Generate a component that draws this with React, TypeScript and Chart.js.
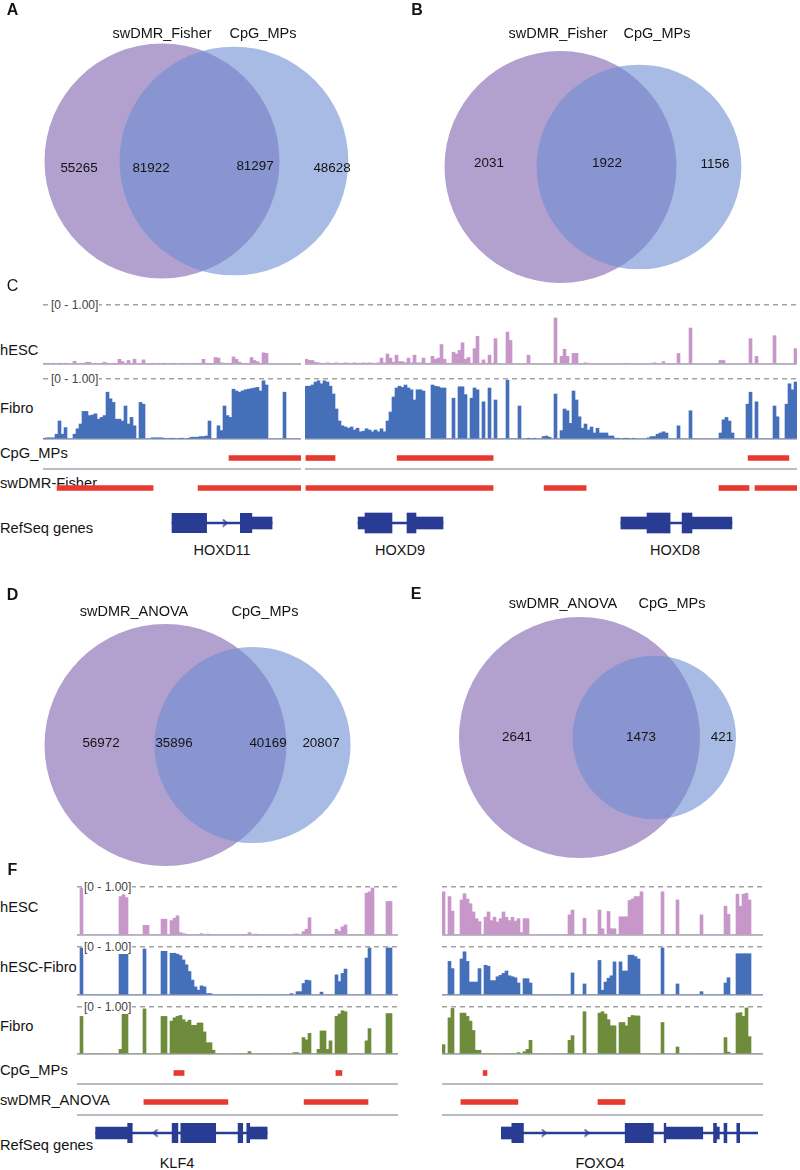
import React, { useEffect, useRef } from "react";
import { Chart, registerables } from "chart.js";

Chart.register(...registerables);

const FONT = '"Liberation Sans", Arial, Helvetica, sans-serif';

// ---------------- Venn data ----------------
const vennASets = ["swDMR_Fisher", "CpG_MPs"];
const vennAOnly = [55265, 48628];
const vennAShared = [81922, 81297];

const vennBSets = ["swDMR_Fisher", "CpG_MPs"];
const vennBOnly = [2031, 1156];
const vennBShared = [1922];

const vennDSets = ["swDMR_ANOVA", "CpG_MPs"];
const vennDOnly = [56972, 20807];
const vennDShared = [35896, 40169];

const vennESets = ["swDMR_ANOVA", "CpG_MPs"];
const vennEOnly = [2641, 421];
const vennEShared = [1473];

// ---------------- Track names ----------------
const cTrackNames = ["hESC", "Fibro", "CpG_MPs", "swDMR-Fisher", "RefSeq genes"];
const fTrackNames = ["hESC", "hESC-Fibro", "Fibro", "CpG_MPs", "swDMR_ANOVA", "RefSeq genes"];
const rangeLabel = "[0 - 1.00]";
const cGeneNames = ["HOXD11", "HOXD9", "HOXD8"];
const fGeneNames = ["KLF4", "FOXO4"];

// ---------------- Panel C signal (fraction of 0-1 range, per genomic bin) ----------------
const cLeftHesc = [
  0.01, 0.005, 0, 0.005, 0, 0.005, 0, 0.005, 0, 0,
  0.045, 0.01, 0, 0.01, 0.03, 0.03, 0, 0.01, 0, 0.01,
  0.03, 0.01, 0, 0.01, 0, 0.08, 0.04, 0, 0.06, 0,
  0.08, 0, 0, 0.07, 0, 0, 0.005, 0, 0.005, 0,
  0.005, 0, 0, 0.005, 0, 0, 0.01, 0, 0, 0.01,
  0, 0.01, 0.01, 0.08, 0.01, 0.01, 0, 0.11, 0.1, 0.02,
  0.01, 0.01, 0.01, 0.12, 0.08, 0.03, 0.01, 0.01, 0.01, 0.11,
  0.06, 0.04, 0.01, 0.19, 0.18, 0, 0, 0, 0, 0,
  0, 0, 0, 0, 0, 0,
];
const cLeftFibro = [
  0.01, 0.02, 0.02, 0.02, 0.08, 0.3, 0.08, 0.19, 0, 0,
  0.08, 0.17, 0.25, 0.46, 0.46, 0.39, 0.4, 0.42, 0.33, 0.36,
  0.39, 0.78, 0.67, 0.61, 0.33, 0.33, 0.3, 0.55, 0.25, 0.36,
  0.22, 0, 0.61, 0.58, 0, 0, 0.02, 0.02, 0.02, 0.02,
  0.01, 0, 0.01, 0.01, 0, 0.01, 0.01, 0, 0.01, 0.03,
  0.03, 0.03, 0.04, 0.04, 0.05, 0.3, 0, 0, 0.22, 0.14,
  0.55, 0.39, 0.36, 0.83, 0.8, 0.78, 0.8, 0.82, 0.83, 0.84,
  0.85, 0.86, 0.8, 0.97, 0.9, 0, 0, 0, 0, 0,
  0.78, 0, 0, 0, 0, 0,
];
const cRightHesc = [
  0.08, 0.06, 0.06, 0.03, 0.02, 0.01, 0.01, 0.02, 0.01, 0.01,
  0.02, 0.01, 0.01, 0.02, 0.01, 0.01, 0.02, 0.01, 0.01, 0.02,
  0.01, 0.02, 0.01, 0.01, 0.02, 0.1, 0.02, 0.17, 0.1, 0.03,
  0.15, 0.04, 0.04, 0.02, 0.1, 0.02, 0.15, 0.02, 0.02, 0.1,
  0.01, 0.01, 0.13, 0.08, 0.1, 0.33, 0.08, 0.01, 0.01, 0.2,
  0.17, 0.23, 0.36, 0.08, 0.11, 0.01, 0.26, 0.47, 0.01, 0.07,
  0.01, 0.15, 0.01, 0.43, 0, 0, 0, 0.54, 0.4, 0,
  0, 0, 0, 0, 0.15, 0, 0, 0, 0, 0,
  0, 0, 0, 0.78, 0, 0.13, 0.25, 0.13, 0, 0.18,
  0.18, 0, 0, 0.02, 0, 0, 0, 0, 0, 0,
  0, 0, 0, 0, 0, 0, 0.01, 0, 0, 0,
  0, 0, 0, 0, 0, 0, 0.02, 0, 0, 0.04,
  0, 0, 0, 0, 0.18, 0, 0, 0, 0.61, 0,
  0, 0, 0, 0, 0, 0, 0, 0, 0.06, 0.06,
  0, 0, 0, 0, 0, 0, 0, 0, 0.43, 0,
  0.13, 0, 0, 0, 0, 0, 0.48, 0, 0, 0,
  0, 0, 0, 0.26,
];
const cRightFibro = [
  0.88, 0.88, 0.9, 0.95, 0.97, 0.92, 0.97, 0.95, 0.88, 0.75,
  0.5, 0.3, 0.22, 0.2, 0.18, 0.2, 0.15, 0.18, 0.12, 0.13,
  0.17, 0.15, 0.12, 0.15, 0.12, 0.17, 0.12, 0.3, 0.45, 0.7,
  0.85, 0.88, 0.86, 0.9, 0.85, 0.82, 0.65, 0.82, 0.82, 0.8,
  0, 0, 0.9, 0.88, 0.87, 0.85, 0.85, 0, 0, 0.68,
  0, 0.87, 0.87, 0.74, 0, 0.68, 0.85, 0.82, 0, 0.62,
  0, 0.85, 0, 0.65, 0, 0, 0, 0.98, 0, 0,
  0, 0.55, 0, 0, 0.01, 0, 0.01, 0, 0, 0.04,
  0.05, 0.03, 0, 0.75, 0, 0.14, 0.5, 0.47, 0.26, 0.8,
  0.65, 0.37, 0.18, 0.25, 0.15, 0.2, 0.1, 0.18, 0.1, 0.1,
  0.1, 0.05, 0.05, 0.01, 0.01, 0, 0.01, 0.01, 0, 0.01,
  0, 0, 0, 0, 0.02, 0.04, 0.04, 0.08, 0.1, 0.12,
  0.1, 0, 0, 0, 0.22, 0, 0, 0, 0.47, 0,
  0, 0, 0, 0, 0, 0, 0, 0, 0.1, 0.32,
  0.36, 0.3, 0.1, 0, 0, 0, 0, 0.58, 0.78, 0,
  0.62, 0, 0, 0, 0, 0, 0.55, 0.37, 0, 0,
  0.58, 0.92, 0.82, 0.95,
];

// ---------------- Panel F signal ----------------
const fLeftHesc = [
  0, 0.98, 0, 0, 0, 0, 0, 0, 0, 0,
  0, 0, 0, 0, 0.8, 0.84, 0.78, 0, 0, 0,
  0, 0, 0.2, 0.2, 0, 0, 0, 0, 0.33, 0.33,
  0, 0.3, 0.35, 0.4, 0.05, 0.03, 0.01, 0, 0, 0,
  0, 0.03, 0, 0.02, 0, 0, 0, 0, 0, 0,
  0, 0, 0, 0, 0, 0, 0, 0.05, 0, 0.02,
  0, 0, 0, 0, 0, 0, 0, 0, 0, 0,
  0, 0, 0.02, 0.02, 0, 0.07, 0.12, 0.36, 0, 0,
  0, 0, 0, 0, 0, 0.01, 0.12, 0.08, 0.17, 0.21,
  0, 0, 0, 0, 0, 0, 0.87, 0.9, 0.98, 0,
  0, 0, 0, 0.7, 0.7, 0, 0,
];
const fLeftDiff = [
  0, 0.98, 0, 0, 0, 0, 0, 0, 0, 0,
  0, 0, 0, 0, 0.94, 0.93, 0.94, 0, 0, 0,
  0, 0, 0.96, 0, 0, 0, 0, 0, 0.91, 0.91,
  0, 0.87, 0.87, 0.85, 0.82, 0.73, 0.63, 0.49, 0.31, 0.17,
  0.1, 0.19, 0.17, 0.03, 0.03, 0, 0, 0, 0, 0,
  0, 0, 0, 0, 0, 0, 0, 0, 0, 0,
  0, 0, 0, 0, 0, 0, 0, 0, 0, 0,
  0, 0.03, 0, 0.07, 0.07, 0.24, 0.31, 0.3, 0, 0,
  0, 0.06, 0, 0, 0, 0, 0.42, 0.28, 0.45, 0.54,
  0, 0, 0, 0, 0, 0, 0.77, 0.98, 0, 0,
  0, 0, 0, 0.98, 0.98, 0, 0,
];
const fLeftFibro = [
  0, 0.8, 0, 0, 0, 0, 0, 0, 0, 0,
  0, 0, 0, 0, 0.1, 0.95, 0.98, 0, 0, 0,
  0, 0, 0.96, 0, 0, 0, 0, 0, 0.8, 0.8,
  0, 0.7, 0.77, 0.8, 0.82, 0.73, 0.68, 0.72, 0.61, 0.61,
  0.66, 0.66, 0.47, 0.24, 0.24, 0.08, 0, 0, 0, 0,
  0, 0, 0, 0, 0, 0, 0, 0.05, 0, 0,
  0, 0, 0, 0, 0, 0, 0, 0, 0, 0,
  0, 0, 0.03, 0.03, 0, 0.35, 0.3, 0.44, 0, 0,
  0.1, 0.49, 0.49, 0.1, 0.28, 0, 0.8, 0.85, 0.92, 0.9,
  0, 0, 0, 0, 0, 0, 0.28, 0.54, 0, 0,
  0, 0, 0, 0.86, 0.86, 0, 0,
];
const fRightHesc = [
  0.9, 0, 0.8, 0.5, 0, 0, 0.73, 0.86, 0.75, 0.65,
  0.48, 0.34, 0.28, 0, 0.37, 0.48, 0.3, 0.37, 0.27, 0.34,
  0.48, 0.37, 0.3, 0.37, 0.29, 0.34, 0.05, 0.34, 0.34, 0,
  0, 0, 0, 0, 0, 0, 0, 0, 0, 0,
  0, 0, 0.42, 0.52, 0, 0, 0, 0.35, 0, 0,
  0, 0, 0.52, 0.13, 0, 0.49, 0.13, 0.13, 0, 0.38,
  0.38, 0.38, 0.72, 0.75, 0.8, 0.8, 0.9, 0, 0, 0,
  0, 0, 0, 0.9, 0, 0, 0, 0, 0.73, 0,
  0, 0, 0, 0, 0, 0, 0.42, 0, 0, 0,
  0, 0, 0, 0, 0.6, 0.43, 0, 0, 0.85, 0.6,
  0.85, 0.87, 0.73, 0, 0, 0, 0,
];
const fRightDiff = [
  0, 0, 0.7, 0.55, 0, 0, 0.75, 0.9, 0.7, 0.27,
  0.27, 0.27, 0.55, 0, 0.62, 0.6, 0.3, 0.3, 0.38, 0.41,
  0.45, 0.5, 0.4, 0.38, 0.36, 0.25, 0, 0.34, 0.34, 0.25,
  0, 0, 0, 0, 0, 0, 0, 0, 0, 0,
  0, 0, 0, 0.46, 0, 0, 0, 0.23, 0, 0,
  0, 0, 0.72, 0.1, 0.27, 0.35, 0.4, 0.69, 0, 0.69,
  0.5, 0.5, 0.83, 0.83, 0.8, 0.75, 0, 0, 0, 0,
  0, 0, 0, 0.98, 0, 0, 0, 0, 0.23, 0,
  0, 0, 0, 0, 0, 0, 0.07, 0, 0, 0,
  0, 0, 0, 0, 0.25, 0.36, 0, 0, 0.86, 0.86,
  0.86, 0.86, 0.86, 0, 0, 0, 0,
];
const fRightFibro = [
  0.2, 0, 0.77, 0.97, 0, 0, 0.87, 0.87, 0.8, 0.7,
  0.5, 0.08, 0.08, 0, 0, 0, 0, 0, 0, 0,
  0, 0, 0, 0, 0, 0.03, 0, 0.05, 0.1, 0.29,
  0, 0, 0, 0, 0, 0, 0, 0, 0, 0,
  0, 0, 0.29, 0.39, 0, 0, 0, 0.9, 0, 0,
  0, 0, 0.87, 0.9, 0.85, 0.73, 0.6, 0.6, 0, 0.67,
  0.67, 0.6, 0.78, 0.82, 0.81, 0.81, 0, 0, 0, 0,
  0, 0, 0, 0.67, 0, 0, 0, 0, 0.15, 0,
  0, 0, 0, 0, 0, 0, 0, 0, 0, 0,
  0, 0, 0, 0, 0.35, 0.04, 0, 0, 0.87, 0.88,
  0.8, 0.98, 0.37, 0, 0, 0, 0,
];

// ---------------- Region intervals (genomic bin units) ----------------
const cLeftCpg: [number, number][] = [[62, 86]];
const cLeftDmr: [number, number][] = [[4.7, 36.7], [51.7, 86]];
const cRightCpg: [number, number][] = [[0.3, 10], [30.7, 62.7], [147.7, 161.3]];
const cRightDmr: [number, number][] = [[0.3, 62.7], [79.7, 93.7], [138, 148], [150, 164]];
const fLeftCpg: [number, number][] = [[32.3, 35.7], [86.3, 88.3]];
const fLeftDmr: [number, number][] = [[22.3, 50.3], [75.7, 97]];
const fRightCpg: [number, number][] = [[13.7, 15]];
const fRightDmr: [number, number][] = [[6.3, 25.3], [52, 61]];

// ---------------- Gene models (genomic bin units) ----------------
const hoxd11Span: [number, number][] = [[43, 77.7]];
const hoxd11Utr: [number, number][] = [[70.7, 77.7]];
const hoxd11Cds: [number, number][] = [[43, 55], [66.7, 70.7]];
const hoxd11Arrows = [61.3];

const hoxd98Span: [number, number][] = [[17.7, 46], [105.3, 142.3]];
const hoxd98Utr: [number, number][] = [[17.7, 20], [37, 46], [105.3, 114], [129, 142.3]];
const hoxd98Cds: [number, number][] = [[20, 29], [34, 37], [114, 121.7], [125.7, 129]];
const hoxd98Arrows: number[] = [];

const klf4Span: [number, number][] = [[4.7, 63.7]];
const klf4Utr: [number, number][] = [[4.7, 15.7], [57.7, 63.7]];
const klf4Cds: [number, number][] = [[15.7, 17.3], [31, 33], [34, 46], [53.7, 55.3], [56.7, 57.7]];
const klf4Arrows = [25.3];

const foxo4Span: [number, number][] = [[18.7, 107]];
const foxo4Utr: [number, number][] = [[18.7, 22.3], [75.3, 88], [92.7, 93.7]];
const foxo4Cds: [number, number][] = [[22.3, 26.3], [61.3, 71], [74.7, 75.3], [91.7, 92.7], [95.3, 96.3], [99.7, 100.7]];
const foxo4Arrows = [33.3, 48];

// ---------------- Styles ----------------
const PURPLE = "rgb(178,160,206)";
const BLUE_A = "rgba(110,142,210,0.6)";
const HESC_C = "#C797C9";
const FIBRO_C = "#4570B9";
const GREEN_C = "#6E8C3C";
const RED_C = "#E8392E";
const GENE_C = "#283C93";
const GRAY = "#B8BBC3";
const DASH = "#A3A3A3";

const noPlugins = { legend: { display: false }, tooltip: { enabled: false } };

function fit(values: number[], n: number) {
  const v = values.slice(0, n);
  while (v.length < n) v.push(0);
  return v;
}

function barTrack(values: number[], color: string, n: number) {
  const vals = fit(values, n);
  return {
    type: "bar",
    data: {
      labels: vals.map((_, i) => String(i)),
      datasets: [{ data: vals, backgroundColor: color, borderWidth: 0, barPercentage: 1, categoryPercentage: 1 }],
    },
    options: {
      responsive: false,
      animation: false,
      events: [],
      layout: { padding: { top: 2, bottom: 2, left: 0, right: 0 } },
      plugins: noPlugins,
      scales: {
        x: {
          type: "category",
          display: true,
          grid: { display: false, drawTicks: false },
          ticks: { display: false },
          border: { display: true, color: GRAY, width: 2 },
        },
        y: {
          type: "linear",
          min: 0,
          max: 1,
          display: true,
          ticks: { display: false, stepSize: 1 },
          grid: {
            drawTicks: false,
            lineWidth: 1.5,
            color: (c: any) => (c.tick && c.tick.value === 1 ? DASH : "rgba(0,0,0,0)"),
          },
          border: { display: false, dash: [5, 4] },
        },
      },
    },
  };
}

function intervalTrack(intervals: [number, number][], n: number, thickness: number, showLine: boolean) {
  return {
    type: "bar",
    data: {
      labels: ["r"],
      datasets: [
        {
          data: intervals.map((iv) => ({ x: iv, y: "r" })),
          backgroundColor: RED_C,
          borderWidth: 0,
          barThickness: thickness,
          grouped: false,
        },
      ],
    },
    options: {
      indexAxis: "y",
      responsive: false,
      animation: false,
      events: [],
      layout: { padding: { top: 0, bottom: showLine ? 2 : 0, left: 0, right: 0 } },
      plugins: noPlugins,
      scales: {
        x: {
          type: "linear",
          min: 0,
          max: n,
          display: showLine,
          grid: { display: false, drawTicks: false },
          ticks: { display: false },
          border: { display: showLine, color: GRAY, width: 2 },
        },
        y: { type: "category", display: false },
      },
    },
  };
}

function chevron(dir: string) {
  const c = document.createElement("canvas");
  c.width = 6;
  c.height = 9;
  const g = c.getContext("2d")!;
  g.strokeStyle = GENE_C;
  g.lineWidth = 1.6;
  g.beginPath();
  if (dir === ">") {
    g.moveTo(1, 1);
    g.lineTo(5, 4.5);
    g.lineTo(1, 8);
  } else {
    g.moveTo(5, 1);
    g.lineTo(1, 4.5);
    g.lineTo(5, 8);
  }
  g.stroke();
  return c;
}

function geneTrack(
  n: number,
  span: [number, number][],
  utr: [number, number][],
  cds: [number, number][],
  arrows: number[],
  dir: string
) {
  const row = (list: [number, number][]) => list.map((iv) => ({ x: iv, y: "g" }));
  return {
    type: "bar",
    data: {
      labels: ["g"],
      datasets: [
        { type: "bar", indexAxis: "y", data: row(span), backgroundColor: GENE_C, borderWidth: 0, barThickness: 2, grouped: false },
        { type: "bar", indexAxis: "y", data: row(utr), backgroundColor: GENE_C, borderWidth: 0, barThickness: 12, grouped: false },
        { type: "bar", indexAxis: "y", data: row(cds), backgroundColor: GENE_C, borderWidth: 0, barThickness: 20, grouped: false },
        {
          type: "scatter",
          data: arrows.map((a) => ({ x: a, y: "g" })),
          pointStyle: chevron(dir),
          pointRadius: 4,
          showLine: false,
        },
      ],
    },
    options: {
      indexAxis: "y",
      responsive: false,
      animation: false,
      events: [],
      layout: { padding: 0 },
      plugins: noPlugins,
      scales: {
        x: { type: "linear", min: 0, max: n, display: false },
        y: { type: "category", labels: ["g"], display: false },
      },
    },
  };
}

function overlapArea(r1: number, r2: number, d: number) {
  if (d >= r1 + r2) return 0;
  if (d <= Math.abs(r1 - r2)) return Math.PI * Math.min(r1, r2) ** 2;
  const a1 = r1 * r1 * Math.acos((d * d + r1 * r1 - r2 * r2) / (2 * d * r1));
  const a2 = r2 * r2 * Math.acos((d * d + r2 * r2 - r1 * r1) / (2 * d * r2));
  const t = 0.5 * Math.sqrt((-d + r1 + r2) * (d + r1 - r2) * (d - r1 + r2) * (d + r1 + r2));
  return a1 + a2 - t;
}

function solveDistance(r1: number, r2: number, target: number) {
  let lo = Math.abs(r1 - r2);
  let hi = r1 + r2;
  for (let i = 0; i < 80; i++) {
    const mid = (lo + hi) / 2;
    if (overlapArea(r1, r2, mid) > target) lo = mid;
    else hi = mid;
  }
  return (lo + hi) / 2;
}

function vennChart(only: number[], shared: number[], W: number, H: number, cx: number, cy: number, R1: number) {
  const a = only[0] + shared[0];
  const b = only[1] + shared[shared.length - 1];
  const inter = shared.reduce((s, v) => s + v, 0) / shared.length;
  const r1 = Math.sqrt(a / Math.PI);
  const r2 = Math.sqrt(b / Math.PI);
  const d = solveDistance(r1, r2, inter);
  const s = R1 / r1;
  const pxR = (c: any, r: number) => {
    const sc = c.chart.scales.x;
    return Math.abs(sc.getPixelForValue(r) - sc.getPixelForValue(0));
  };
  return {
    type: "scatter",
    data: {
      datasets: [
        { data: [{ x: 0, y: 0 }], order: 2, backgroundColor: PURPLE, borderWidth: 0, pointRadius: (c: any) => pxR(c, r1) },
        { data: [{ x: d, y: 0 }], order: 1, backgroundColor: BLUE_A, borderWidth: 0, pointRadius: (c: any) => pxR(c, r2) },
      ],
    },
    options: {
      responsive: false,
      animation: false,
      events: [],
      layout: { padding: 0 },
      plugins: noPlugins,
      scales: {
        x: { type: "linear", display: false, min: -cx / s, max: (W - cx) / s },
        y: { type: "linear", display: false, min: -(H - cy) / s, max: cy / s },
      },
    },
  };
}

function ChartBox({ x, y, w, h, make }: { x: number; y: number; w: number; h: number; make: () => any }) {
  const ref = useRef<HTMLCanvasElement | null>(null);
  useEffect(() => {
    if (!ref.current) return;
    const chart = new Chart(ref.current, make());
    return () => chart.destroy();
  }, []);
  return (
    <div style={{ position: "absolute", left: x, top: y, width: w, height: h }}>
      <canvas ref={ref} width={w} height={h} style={{ width: w, height: h, display: "block" }} />
    </div>
  );
}

function Txt({
  x,
  y,
  text,
  size = 14.5,
  align = "center",
  weight = 400,
  color = "#141414",
  bg,
}: {
  x: number;
  y: number;
  text: string;
  size?: number;
  align?: string;
  weight?: number;
  color?: string;
  bg?: string;
}) {
  return (
    <div
      style={{
        position: "absolute",
        left: x,
        top: y,
        transform: `translate(${align === "left" ? "0" : "-50%"}, -50%)`,
        fontFamily: FONT,
        fontSize: size,
        fontWeight: weight,
        color,
        lineHeight: 1,
        whiteSpace: "nowrap",
        background: bg,
        padding: bg ? "1px 1px" : undefined,
      }}
    >
      {text}
    </div>
  );
}

// ---------------- Layout ----------------
const SEG = {
  cL: { x: 43, w: 258, n: 86 },
  cR: { x: 305, w: 492, n: 164 },
  fL: { x: 77, w: 321, n: 107 },
  fR: { x: 442, w: 321, n: 107 },
};
const C_SIG = [
  { top: 305, base: 364 },
  { top: 379, base: 439 },
];
const F_SIG = [
  { top: 887, base: 935 },
  { top: 947, base: 995 },
  { top: 1007, base: 1054 },
];
const C_LABEL_Y = [350, 408, 453, 483, 528];
const F_LABEL_Y = [907, 967, 1026, 1070, 1100, 1145];

const VENN = [
  { key: "A", x: 0, y: 0, w: 400, h: 290, cx: 162, cy: 161, R: 117.5, only: vennAOnly, shared: vennAShared, sets: vennASets,
    setPos: [[162, 33], [263, 33]], numPos: [[79, 168], [151, 168], [255, 166], [332, 168]], letter: [12.5, 10] },
  { key: "B", x: 400, y: 0, w: 400, h: 290, cx: 160.5, cy: 167, R: 116, only: vennBOnly, shared: vennBShared, sets: vennBSets,
    setPos: [[558, 33], [657, 33]], numPos: [[489, 163], [607, 163], [715, 164]], letter: [417, 10] },
  { key: "D", x: 0, y: 585, w: 400, h: 290, cx: 165.5, cy: 160, R: 121, only: vennDOnly, shared: vennDShared, sets: vennDSets,
    setPos: [[134, 611], [265, 611]], numPos: [[101, 743], [174, 743], [268, 743], [321, 743]], letter: [12.5, 595] },
  { key: "E", x: 400, y: 580, w: 400, h: 295, cx: 179.5, cy: 157.5, R: 120.5, only: vennEOnly, shared: vennEShared, sets: vennESets,
    setPos: [[563, 603], [672, 603]], numPos: [[517, 737], [641, 737], [722, 737]], letter: [416, 594] },
];

export default function App() {
  const charts: any[] = [];
  const texts: any[] = [];
  const under: any[] = [];

  // Venn diagrams
  VENN.forEach((v) => {
    charts.push(
      <ChartBox key={"venn" + v.key} x={v.x} y={v.y} w={v.w} h={v.h}
        make={() => vennChart(v.only, v.shared, v.w, v.h, v.cx, v.cy, v.R)} />
    );
    const nums = [v.only[0], ...v.shared, v.only[1]];
    nums.forEach((num, i) =>
      texts.push(<Txt key={`n${v.key}${i}`} x={v.numPos[i][0]} y={v.numPos[i][1]} text={String(num)} size={13.4} />)
    );
    v.sets.forEach((s, i) =>
      texts.push(<Txt key={`s${v.key}${i}`} x={v.setPos[i][0]} y={v.setPos[i][1]} text={s} size={14.5} />)
    );
    texts.push(<Txt key={`L${v.key}`} x={v.letter[0]} y={v.letter[1]} text={v.key} size={16} weight={700} />);
  });

  // Panel C signal tracks
  const cSig = [
    { L: cLeftHesc, R: cRightHesc, color: HESC_C },
    { L: cLeftFibro, R: cRightFibro, color: FIBRO_C },
  ];
  cSig.forEach((t, i) => {
    const g = C_SIG[i];
    charts.push(<ChartBox key={"cL" + i} x={SEG.cL.x} y={g.top - 2} w={SEG.cL.w} h={g.base - g.top + 4}
      make={() => barTrack(t.L, t.color, SEG.cL.n)} />);
    charts.push(<ChartBox key={"cR" + i} x={SEG.cR.x} y={g.top - 2} w={SEG.cR.w} h={g.base - g.top + 4}
      make={() => barTrack(t.R, t.color, SEG.cR.n)} />);
    texts.push(<Txt key={"cRange" + i} x={50} y={g.top} text={rangeLabel} size={12} align="left" color="#444" bg="#fff" />);
  });
  // Panel C intervals
  charts.push(<ChartBox key="cLcpg" x={SEG.cL.x} y={447} w={SEG.cL.w} h={24} make={() => intervalTrack(cLeftCpg, SEG.cL.n, 5, true)} />);
  charts.push(<ChartBox key="cRcpg" x={SEG.cR.x} y={447} w={SEG.cR.w} h={24} make={() => intervalTrack(cRightCpg, SEG.cR.n, 5, true)} />);
  charts.push(<ChartBox key="cLdmr" x={SEG.cL.x} y={478} w={SEG.cL.w} h={20} make={() => intervalTrack(cLeftDmr, SEG.cL.n, 5, false)} />);
  charts.push(<ChartBox key="cRdmr" x={SEG.cR.x} y={478} w={SEG.cR.w} h={20} make={() => intervalTrack(cRightDmr, SEG.cR.n, 5, false)} />);
  // Panel C genes
  charts.push(<ChartBox key="cLgene" x={SEG.cL.x} y={508} w={SEG.cL.w} h={30}
    make={() => geneTrack(SEG.cL.n, hoxd11Span, hoxd11Utr, hoxd11Cds, hoxd11Arrows, ">")} />);
  charts.push(<ChartBox key="cRgene" x={SEG.cR.x} y={508} w={SEG.cR.w} h={30}
    make={() => geneTrack(SEG.cR.n, hoxd98Span, hoxd98Utr, hoxd98Cds, hoxd98Arrows, ">")} />);
  cTrackNames.forEach((name, i) => under.push(<Txt key={"cn" + i} x={0} y={C_LABEL_Y[i]} text={name} size={14.7} align="left" />));
  const cGeneX = [222, 400, 675];
  cGeneNames.forEach((g, i) => texts.push(<Txt key={"cg" + i} x={cGeneX[i]} y={550} text={g} size={14.5} />));
  texts.push(<Txt key="LC" x={12.5} y={286} text="C" size={16} />);

  // Panel F signal tracks
  const fSig = [
    { L: fLeftHesc, R: fRightHesc, color: HESC_C },
    { L: fLeftDiff, R: fRightDiff, color: FIBRO_C },
    { L: fLeftFibro, R: fRightFibro, color: GREEN_C },
  ];
  fSig.forEach((t, i) => {
    const g = F_SIG[i];
    charts.push(<ChartBox key={"fL" + i} x={SEG.fL.x} y={g.top - 2} w={SEG.fL.w} h={g.base - g.top + 4}
      make={() => barTrack(t.L, t.color, SEG.fL.n)} />);
    charts.push(<ChartBox key={"fR" + i} x={SEG.fR.x} y={g.top - 2} w={SEG.fR.w} h={g.base - g.top + 4}
      make={() => barTrack(t.R, t.color, SEG.fR.n)} />);
    texts.push(<Txt key={"fRange" + i} x={83} y={g.top} text={rangeLabel} size={12} align="left" color="#444" bg="#fff" />);
  });
  charts.push(<ChartBox key="fLcpg" x={SEG.fL.x} y={1062} w={SEG.fL.w} h={24} make={() => intervalTrack(fLeftCpg, SEG.fL.n, 5, true)} />);
  charts.push(<ChartBox key="fRcpg" x={SEG.fR.x} y={1062} w={SEG.fR.w} h={24} make={() => intervalTrack(fRightCpg, SEG.fR.n, 5, true)} />);
  charts.push(<ChartBox key="fLdmr" x={SEG.fL.x} y={1089} w={SEG.fL.w} h={28} make={() => intervalTrack(fLeftDmr, SEG.fL.n, 5, true)} />);
  charts.push(<ChartBox key="fRdmr" x={SEG.fR.x} y={1089} w={SEG.fR.w} h={28} make={() => intervalTrack(fRightDmr, SEG.fR.n, 5, true)} />);
  charts.push(<ChartBox key="fLgene" x={SEG.fL.x} y={1118} w={SEG.fL.w} h={30}
    make={() => geneTrack(SEG.fL.n, klf4Span, klf4Utr, klf4Cds, klf4Arrows, "<")} />);
  charts.push(<ChartBox key="fRgene" x={SEG.fR.x} y={1118} w={SEG.fR.w} h={30}
    make={() => geneTrack(SEG.fR.n, foxo4Span, foxo4Utr, foxo4Cds, foxo4Arrows, ">")} />);
  fTrackNames.forEach((name, i) => under.push(<Txt key={"fn" + i} x={0} y={F_LABEL_Y[i]} text={name} size={14.7} align="left" />));
  const fGeneX = [177, 600];
  fGeneNames.forEach((g, i) => texts.push(<Txt key={"fg" + i} x={fGeneX[i]} y={1163} text={g} size={14.5} />));
  texts.push(<Txt key="LF" x={12.5} y={870} text="F" size={16} weight={700} />);

  return (
    <div style={{ position: "absolute", left: 0, top: 0, width: 800, height: 1170, background: "#fff", overflow: "hidden" }}>
      {under}
      {charts}
      {texts}
    </div>
  );
}
